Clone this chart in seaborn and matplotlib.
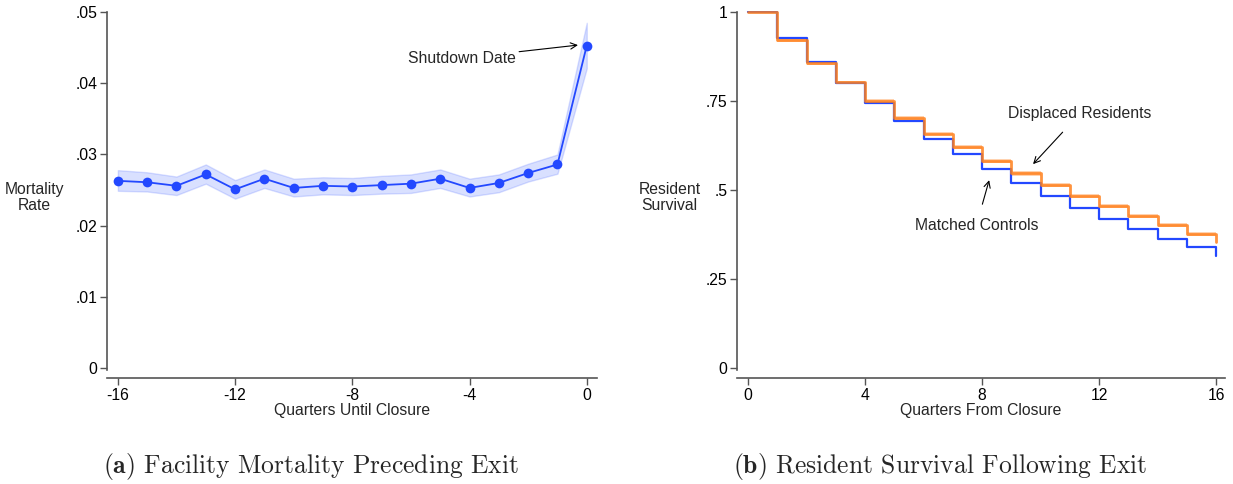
import matplotlib
matplotlib.use("Agg")
import matplotlib.pyplot as plt
import pandas as pd
import seaborn as sns

# ---- Panel (a): facility mortality by quarter before closure ----
quarters_before = [-16, -15, -14, -13, -12, -11, -10, -9, -8, -7, -6, -5, -4, -3, -2, -1, 0]
mortality = [0.0263, 0.0261, 0.0256, 0.0272, 0.0251, 0.0266, 0.0253, 0.0256, 0.0255,
             0.0257, 0.0259, 0.0266, 0.0253, 0.0260, 0.0274, 0.0286, 0.0453]
mortality_lo = [0.0249, 0.0248, 0.0243, 0.0259, 0.0238, 0.0253, 0.0241, 0.0244, 0.0243,
                0.0245, 0.0246, 0.0253, 0.0241, 0.0247, 0.0262, 0.0273, 0.0421]
mortality_hi = [0.0278, 0.0275, 0.0269, 0.0286, 0.0264, 0.0279, 0.0266, 0.0268, 0.0267,
                0.0270, 0.0272, 0.0279, 0.0266, 0.0272, 0.0287, 0.0300, 0.0485]
left_yticks = [0, 0.01, 0.02, 0.03, 0.04, 0.05]
left_yticklabels = ["0", ".01", ".02", ".03", ".04", ".05"]
left_xticks = [-16, -12, -8, -4, 0]

# ---- Panel (b): survival after closure ----
quarters_after = list(range(0, 17))
survival_displaced = [1.0, 0.922, 0.857, 0.803, 0.750, 0.702, 0.659, 0.621, 0.581,
                      0.547, 0.514, 0.483, 0.455, 0.427, 0.401, 0.376, 0.353]
survival_displaced_lo = [1.0, 0.917, 0.852, 0.798, 0.745, 0.697, 0.654, 0.615, 0.575,
                         0.541, 0.508, 0.477, 0.449, 0.421, 0.395, 0.370, 0.347]
survival_displaced_hi = [1.0, 0.927, 0.862, 0.808, 0.755, 0.707, 0.664, 0.627, 0.587,
                         0.553, 0.520, 0.489, 0.461, 0.433, 0.407, 0.382, 0.359]
survival_controls = [1.0, 0.928, 0.861, 0.801, 0.746, 0.693, 0.644, 0.601, 0.558,
                     0.520, 0.483, 0.449, 0.419, 0.390, 0.364, 0.339, 0.316]
right_yticks = [0, 0.25, 0.5, 0.75, 1.0]
right_yticklabels = ["0", ".25", ".5", ".75", "1"]
right_xticks = [0, 4, 8, 12, 16]

BLUE = "#2348ff"
ORANGE = "#ff801c"
AXIS = "#555555"
FS = 11.3

sns.set_theme(style="white")
plt.rcParams["font.family"] = ["Liberation Sans", "DejaVu Sans"]
plt.rcParams["axes.unicode_minus"] = False
plt.rcParams["mathtext.fontset"] = "cm"

fig = plt.figure(figsize=(12.33, 4.84), dpi=100)
ax1 = fig.add_axes([0.0868, 0.219, 0.3974, 0.758])
ax2 = fig.add_axes([0.5977, 0.219, 0.3958, 0.758])

df_a = pd.DataFrame({"quarter": quarters_before, "rate": mortality,
                     "lo": mortality_lo, "hi": mortality_hi})
ax1.fill_between(df_a["quarter"], df_a["lo"], df_a["hi"], color=BLUE, alpha=0.17,
                 edgecolor=BLUE, linewidth=1.0)
sns.lineplot(data=df_a, x="quarter", y="rate", ax=ax1, color=BLUE, linewidth=1.3,
             marker="o", markersize=7, markeredgewidth=0, markerfacecolor=BLUE)
ax1.annotate("Shutdown Date", xy=(-0.3, 0.04537), xytext=(-2.42, 0.04354),
             ha="right", va="center", fontsize=FS,
             arrowprops=dict(arrowstyle="->", color="black", lw=0.8,
                             shrinkA=0, shrinkB=0))

df_b = pd.DataFrame({"quarter": quarters_after, "displaced": survival_displaced,
                     "lo": survival_displaced_lo, "hi": survival_displaced_hi,
                     "controls": survival_controls})
sns.lineplot(data=df_b, x="quarter", y="controls", ax=ax2, color=BLUE, linewidth=1.6,
             drawstyle="steps-post")
ax2.fill_between(df_b["quarter"], df_b["lo"], df_b["hi"], step="post",
                 color=ORANGE, alpha=0.35, linewidth=0)
sns.lineplot(data=df_b, x="quarter", y="displaced", ax=ax2, color=ORANGE, linewidth=2.0,
             alpha=0.85, drawstyle="steps-post")
ax2.annotate("Displaced Residents", xy=(9.74, 0.573), xytext=(11.35, 0.716),
             ha="center", va="center", fontsize=FS,
             arrowprops=dict(arrowstyle="->", color="black", lw=0.8,
                             shrinkA=8, shrinkB=0))
ax2.annotate("Matched Controls", xy=(8.24, 0.528), xytext=(7.80, 0.400),
             ha="center", va="center", fontsize=FS,
             arrowprops=dict(arrowstyle="->", color="black", lw=0.8,
                             shrinkA=8, shrinkB=0))

for ax, yt, ytl, xt, xlim, ylim, ylab, xlab in [
    (ax1, left_yticks, left_yticklabels, left_xticks, (-16.37, 0.35), (-0.0014, 0.05014),
     "Mortality\nRate", "Quarters Until Closure"),
    (ax2, right_yticks, right_yticklabels, right_xticks, (-0.38, 16.3), (-0.028, 1.003),
     "Resident\nSurvival", "Quarters From Closure"),
]:
    ax.set_xlim(*xlim)
    ax.set_ylim(*ylim)
    ax.set_yticks(yt)
    ax.set_yticklabels(ytl)
    ax.set_xticks(xt)
    ax.set_xticklabels([str(v) for v in xt])
    ax.tick_params(axis="both", which="both", direction="out", length=5, width=1,
                   color=AXIS, labelsize=FS, labelcolor="black", pad=2,
                   bottom=True, left=True)
    for side in ("top", "right"):
        ax.spines[side].set_visible(False)
    for side in ("left", "bottom"):
        ax.spines[side].set_color(AXIS)
        ax.spines[side].set_linewidth(1.2)
    ax.spines["left"].set_bounds(yt[0] - (ylim[1] - ylim[0]) * 0.004, yt[-1])
    ax.set_xlabel(xlab, fontsize=FS, labelpad=0)
    ax.set_ylabel(ylab, fontsize=FS, rotation=0, ha="center", va="center",
                  linespacing=1.05)
    ax.grid(False)

ax1.yaxis.set_label_coords(-0.149, 0.492)
ax2.yaxis.set_label_coords(-0.138, 0.492)

fig.text(311 / 1233, 1 - 466 / 484,
         r"$\mathbf{(a)}$ Facility Mortality Preceding Exit",
         family="cmr10", fontsize=18.4, ha="center", va="center")
fig.text(940 / 1233, 1 - 466 / 484,
         r"$\mathbf{(b)}$ Resident Survival Following Exit",
         family="cmr10", fontsize=18.4, ha="center", va="center")

fig.savefig("out.png", dpi=100, facecolor="white")
